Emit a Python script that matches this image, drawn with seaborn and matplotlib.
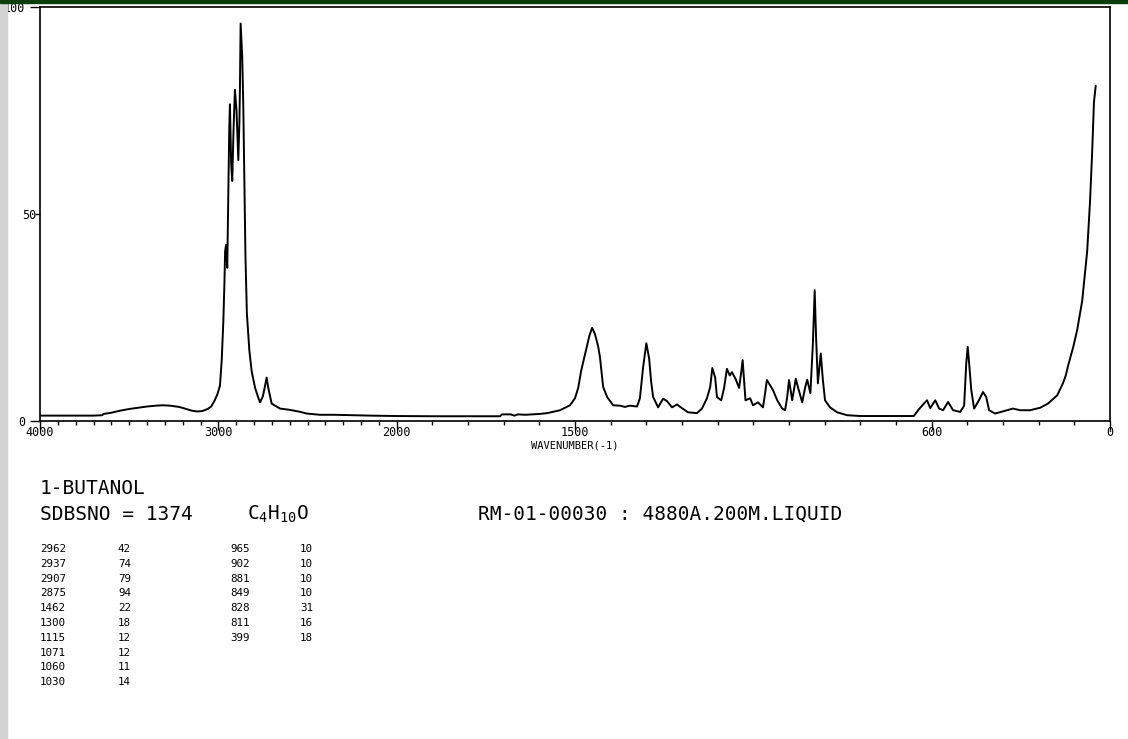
import numpy as np
import pandas as pd
import seaborn as sns
import matplotlib
matplotlib.use("Agg")
import matplotlib.pyplot as plt
from matplotlib.patches import Rectangle
from matplotlib.ticker import FixedLocator, FixedFormatter, MultipleLocator

# spectrum (wavenumber, relative intensity)
wavenumber = [4000, 3900, 3800, 3700, 3650, 3645, 3600, 3550, 3500, 3450, 3400, 3350, 3310,
              3270, 3220, 3180, 3150, 3120, 3090, 3060, 3040, 3020, 3005, 2991, 2981, 2972,
              2966, 2962, 2957, 2950, 2945, 2939, 2935, 2928, 2922, 2915, 2907, 2898, 2888,
              2882, 2879, 2875, 2866, 2860, 2855, 2848, 2840, 2826, 2813, 2794, 2775, 2766,
              2750, 2738, 2729, 2720, 2701, 2654, 2600, 2540, 2505, 2430, 2350, 2250, 2150,
              2000, 1900, 1800, 1710, 1705, 1680, 1670, 1660, 1640, 1600, 1578, 1542, 1514,
              1500, 1491, 1483, 1475, 1468, 1460, 1452, 1444, 1435, 1430, 1421, 1410, 1393,
              1374, 1360, 1346, 1326, 1318, 1309, 1300, 1292, 1287, 1281, 1267, 1253, 1242,
              1228, 1214, 1200, 1183, 1158, 1144, 1130, 1121, 1115, 1107, 1102, 1090, 1082,
              1074, 1066, 1060, 1050, 1040, 1034, 1030, 1022, 1009, 1001, 987, 973, 967, 962,
              950, 945, 933, 919, 911, 905, 900, 891, 881, 875, 863, 855, 849, 840, 833, 828,
              824, 819, 811, 805, 799, 785, 765, 737, 700, 645, 550, 538, 524, 513, 504, 490,
              479, 468, 454, 440, 420, 409, 403, 399, 395, 389, 381, 370, 356, 347, 339, 322,
              289, 272, 252, 224, 196, 174, 148, 132, 124, 117, 103, 92, 78, 64, 56, 50, 45, 40]
intensity = [1.3, 1.3, 1.3, 1.3, 1.4, 1.7, 2.0, 2.5, 2.9, 3.2, 3.5, 3.7, 3.8,
             3.7, 3.4, 2.9, 2.5, 2.3, 2.4, 2.9, 3.5, 5.0, 6.5, 8.5, 14.7, 24,
             33, 41, 42.5, 37, 52, 70, 76.5, 62, 58, 70, 80, 75, 63,
             72, 80, 96, 88, 76, 62, 40, 26, 17, 12, 8, 5.5, 4.5,
             6, 8.5, 10.5, 8, 4.2, 3, 2.7, 2.2, 1.8, 1.5, 1.5, 1.4, 1.3,
             1.2, 1.15, 1.15, 1.15, 1.6, 1.6, 1.3, 1.6, 1.5, 1.7, 1.9, 2.6, 3.8,
             5.5, 8, 12, 15, 17.5, 20.5, 22.5, 21, 18, 15.4, 8.2, 5.8, 3.8,
             3.7, 3.4, 3.7, 3.5, 5.5, 13, 18.8, 15, 9.9, 5.8, 3.3, 5.4, 4.8,
             3.3, 4, 3.1, 2.1, 1.9, 3, 5.5, 8.2, 12.8, 10.5, 5.8, 5, 8,
             12.6, 11, 11.8, 10.2, 8, 11.7, 14.7, 5, 5.5, 3.8, 4.5, 3.3, 6.7, 9.9,
             8.2, 7.5, 5, 3, 2.6, 5.8, 9.9, 5, 10.2, 8.2, 4.5, 8, 10, 6.7, 18.8, 31.6,
             20, 9.1, 16.3, 9.9, 5, 3.3, 2.1, 1.4, 1.2, 1.2, 1.2, 2.6, 4, 5, 3.1, 5,
             3, 2.6, 4.6, 2.6, 2.2, 3.7, 14, 17.9, 14, 7.5, 3, 4.6, 7, 5.8, 2.6, 1.8,
             2.6, 3, 2.6, 2.6, 3.2, 4.2, 6.2, 9.1, 11, 13.5, 17.9, 22, 29, 41, 53, 65, 77, 81]

x_ticks = [4000, 3000, 2000, 1500, 500, 0]
x_tick_labels = ["4000", "3000", "2000", "1500", "600", "0"]

peak_wn_1 = ["2962", "2937", "2907", "2875", "1462", "1300", "1115", "1071", "1060", "1030"]
peak_int_1 = ["42", "74", "79", "94", "22", "18", "12", "12", "11", "14"]
peak_wn_2 = ["965", "902", "881", "849", "828", "811", "399"]
peak_int_2 = ["10", "10", "10", "10", "31", "16", "18"]

sns.set_theme(style="white")
plt.rcParams["font.family"] = ["DejaVu Sans Mono"]
plt.rcParams["mathtext.default"] = "regular"
plt.rcParams["text.color"] = "black"
plt.rcParams["xtick.labelcolor"] = "black"
plt.rcParams["ytick.labelcolor"] = "black"
plt.rcParams["axes.labelcolor"] = "black"

W, H = 1128, 739
fig = plt.figure(figsize=(W / 100, H / 100), dpi=100)
fig.patch.set_facecolor("white")
ax = fig.add_axes([40 / W, 1 - 421 / H, 1070 / W, 414 / H])


# 4000-2000 drawn at half the scale of 2000-0
def fwd(w):
    w = np.asarray(w, dtype=float)
    return np.where(w > 2000, 2000 + (w - 2000) / 2, w)


def inv(u):
    u = np.asarray(u, dtype=float)
    return np.where(u > 2000, 2000 + (u - 2000) * 2, u)


df = pd.DataFrame({"wavenumber": wavenumber, "intensity": intensity})
sns.lineplot(data=df, x="wavenumber", y="intensity", color="black", lw=1.4,
             estimator=None, ax=ax)
ax.set_xscale("function", functions=(fwd, inv))
ax.set_xlim(4000, 0)
ax.set_ylim(0, 100)

for s in ax.spines.values():
    s.set_color("black")
    s.set_linewidth(1.2)

ax.xaxis.set_major_locator(FixedLocator(x_ticks))
ax.xaxis.set_major_formatter(FixedFormatter(x_tick_labels))
ax.xaxis.set_minor_locator(MultipleLocator(100))
ax.tick_params(axis="x", which="major", bottom=True, direction="out", length=6.3,
               width=1, pad=-2.5, labelsize=8.5, color="black")
ax.tick_params(axis="x", which="minor", bottom=True, direction="out", length=2.6,
               width=1, color="black")

ax.yaxis.set_major_locator(FixedLocator([0, 100]))
ax.yaxis.set_major_formatter(FixedFormatter(["0", "100"]))
ax.yaxis.set_minor_locator(FixedLocator([50]))
ax.yaxis.set_minor_formatter(FixedFormatter(["50"]))
ax.tick_params(axis="y", which="major", left=True, direction="out", length=7.2,
               width=1, pad=3.5, labelsize=8.5, color="black")
ax.tick_params(axis="y", which="minor", left=True, direction="out", length=3.6,
               width=1, pad=-1, labelsize=8.5, color="black")

ax.set_xlabel("WAVENUMBER(-1)", fontsize=7.5, labelpad=1)
ax.set_ylabel("")

# page decorations
fig.patches.append(Rectangle((0, 0), 7 / W, 1, transform=fig.transFigure,
                             color="#d3d3d3", zorder=5))
fig.patches.append(Rectangle((0, 1 - 3 / H), 1, 3 / H, transform=fig.transFigure,
                             color="#0b3d0b", zorder=6))


def ftext(x, y, s, size):
    fig.text(x / W, 1 - y / H, s, fontsize=size, ha="left", va="center", color="black")


ftext(40, 489, "1-BUTANOL", 14)
ftext(40, 514, "SDBSNO = 1374", 14)
ftext(247, 514, "C$_4$H$_{10}$O", 14)
ftext(478, 514, "RM-01-00030 : 4880A.200M.LIQUID", 14)

for i, (a, b) in enumerate(zip(peak_wn_1, peak_int_1)):
    ftext(40, 549 + 14.8 * i, a, 7.8)
    ftext(118, 549 + 14.8 * i, b, 7.8)
for i, (a, b) in enumerate(zip(peak_wn_2, peak_int_2)):
    ftext(230, 549 + 14.8 * i, a, 7.8)
    ftext(300, 549 + 14.8 * i, b, 7.8)

fig.savefig("out.png", dpi=100)
